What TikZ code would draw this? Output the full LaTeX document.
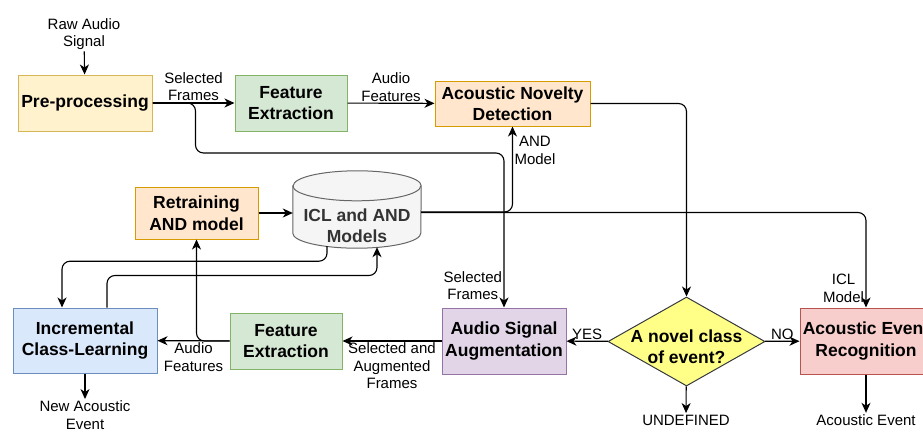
\documentclass[tikz,border=0pt]{standalone}
\usepackage{fontspec}
\setmainfont{Liberation Sans}
\usetikzlibrary{arrows.meta,shapes.geometric,backgrounds}
\definecolor{preFill}{HTML}{FFF2CC}\definecolor{preLine}{HTML}{D6B656}
\definecolor{fexFill}{HTML}{D5E8D4}\definecolor{fexLine}{HTML}{82B366}
\definecolor{andFill}{HTML}{FFE6CC}\definecolor{andLine}{HTML}{D79B00}
\definecolor{dbFill}{HTML}{F5F5F5}\definecolor{dbLine}{HTML}{666666}
\definecolor{dbText}{HTML}{333333}
\definecolor{iclFill}{HTML}{DAE8FC}\definecolor{iclLine}{HTML}{6C8EBF}
\definecolor{augFill}{HTML}{E1D5E7}\definecolor{augLine}{HTML}{9673A6}
\definecolor{decFill}{HTML}{FFFF88}\definecolor{decLine}{HTML}{36393D}
\definecolor{aerFill}{HTML}{F8CECC}\definecolor{aerLine}{HTML}{B85450}

\begin{document}
\begin{tikzpicture}[x=1pt,y=-1pt,
  box/.style={draw,line width=1pt,align=center,inner sep=2pt,font=\fontsize{17.5}{21.5}\selectfont\bfseries},
  lbl/.style={align=center,font=\fontsize{15}{17.5}\selectfont,inner sep=1.5pt},
  db/.style={draw=dbLine,fill=dbFill,line width=1pt},
  dbcap/.style={x radius=64pt,y radius=15pt},
  arrow/.style={-{Stealth[length=10pt,width=9pt,inset=3pt]},line width=1.1pt,rounded corners=8pt}]
\useasboundingbox (0,0) rectangle (923,431);

% upper chain
\node[lbl] (raw) at (84,34) {Raw Audio\\Signal};
\node[box,fill=preFill,draw=preLine,minimum width=134pt,minimum height=56pt] (pre) at (85,103) {Pre-processing};
\node[box,fill=fexFill,draw=fexLine,minimum width=112pt,minimum height=56pt] (fex) at (291,103) {Feature\\Extraction};
\node[box,fill=andFill,draw=andLine,minimum width=155pt,minimum height=45pt] (andet) at (512.5,103.5) {Acoustic Novelty\\Detection};

% models store (outline drawn behind)
\node[box,fill=andFill,draw=andLine,minimum width=123pt,minimum height=52pt] (retrain) at (196.5,213) {Retraining\\AND model};
\node[minimum width=128pt,minimum height=77pt,inner sep=0pt,
  label={[align=center,text=dbText,yshift=-16pt,font=\fontsize{17.5}{21.5}\selectfont\bfseries]center:ICL and AND\\Models}] (models) at (357,209.5) {};
\begin{scope}[on background layer]
\draw[db] ([yshift=-15pt]models.north west) -- ([yshift=15pt]models.south west)
  arc[start angle=180,end angle=360,dbcap] -- ([yshift=-15pt]models.north east)
  arc[start angle=0,end angle=180,dbcap] -- cycle;
\draw[db,fill=none] ([yshift=-15pt]models.north west) arc[start angle=180,end angle=360,dbcap];
\end{scope}

% lower chain
\node[box,fill=iclFill,draw=iclLine,minimum width=144pt,minimum height=65pt] (icl) at (85,340.5) {Incremental\\Class-Learning};
\node[box,fill=fexFill,draw=fexLine,minimum width=112pt,minimum height=56pt] (fexb) at (286,341) {Feature\\Extraction};
\node[box,fill=augFill,draw=augLine,minimum width=124pt,minimum height=66pt] (aug) at (504,341) {Audio Signal\\Augmentation};
\node[draw=decLine,fill=decFill,line width=1pt,diamond,aspect=1.76,inner sep=0pt,
  minimum width=157pt,minimum height=89pt,
  label={[align=center,yshift=-5pt,font=\fontsize{17.5}{21.5}\selectfont\bfseries]center:A novel class\\of event?}] (novel) at (686.5,341.5) {};
\node[box,fill=aerFill,draw=aerLine,minimum width=132pt,minimum height=66pt] (aer) at (866,341) {Acoustic Event\\Recognition};

% outputs
\node[lbl] (newev) at (85,415) {New Acoustic\\Event};
\node[lbl] (undef) at (686,420) {UNDEFINED};
\node[lbl] (event) at (866,420) {Acoustic Event};

\draw[arrow] (raw) -- (pre);
\draw[arrow] (pre) -- node[lbl,above]{Selected\\Frames} (fex);
\draw[arrow] (fex) -- node[lbl,above]{Audio\\Features} (andet);
\draw[arrow] (pre.east) -| ++(43,50) -| (aug.north) node[lbl,pos=0.93,left]{Selected\\Frames};
\draw[arrow] (andet.east) -| (novel.north);
\draw[arrow] ([yshift=-2.5pt]models.east) -| node[lbl,pos=0.86,right]{AND\\Model} (andet.south);
\draw[arrow] ([yshift=-3pt]models.east) -| node[lbl,pos=0.9,left]{ICL\\Model} (aer.north);
\draw[arrow] (retrain.east) -- (retrain.east -| models.west);
\draw[arrow] ([xshift=-30pt,yshift=2pt]models.south) -- ++(0,15) -| ([xshift=-23pt]icl.north);
\draw[arrow] ([xshift=22pt]icl.north) -- ++(0,-32) -| ([xshift=20pt,yshift=1pt]models.south);
\draw[arrow] (aug) -- node[lbl,below]{Selected and\\Augmented\\Frames} (fexb);
\draw[arrow] (fexb) -- node[lbl,below]{Audio\\Features} (icl);
\draw[arrow] (fexb.west) -| (retrain.south);
\draw[arrow] (novel) -- node[lbl,above]{YES} (aug);
\draw[arrow] (novel) -- node[lbl,above]{NO} (aer);
\draw[arrow] (novel) -- (undef);
\draw[arrow] (aer) -- (event);
\draw[arrow] (icl) -- (newev);
\end{tikzpicture}
\end{document}
